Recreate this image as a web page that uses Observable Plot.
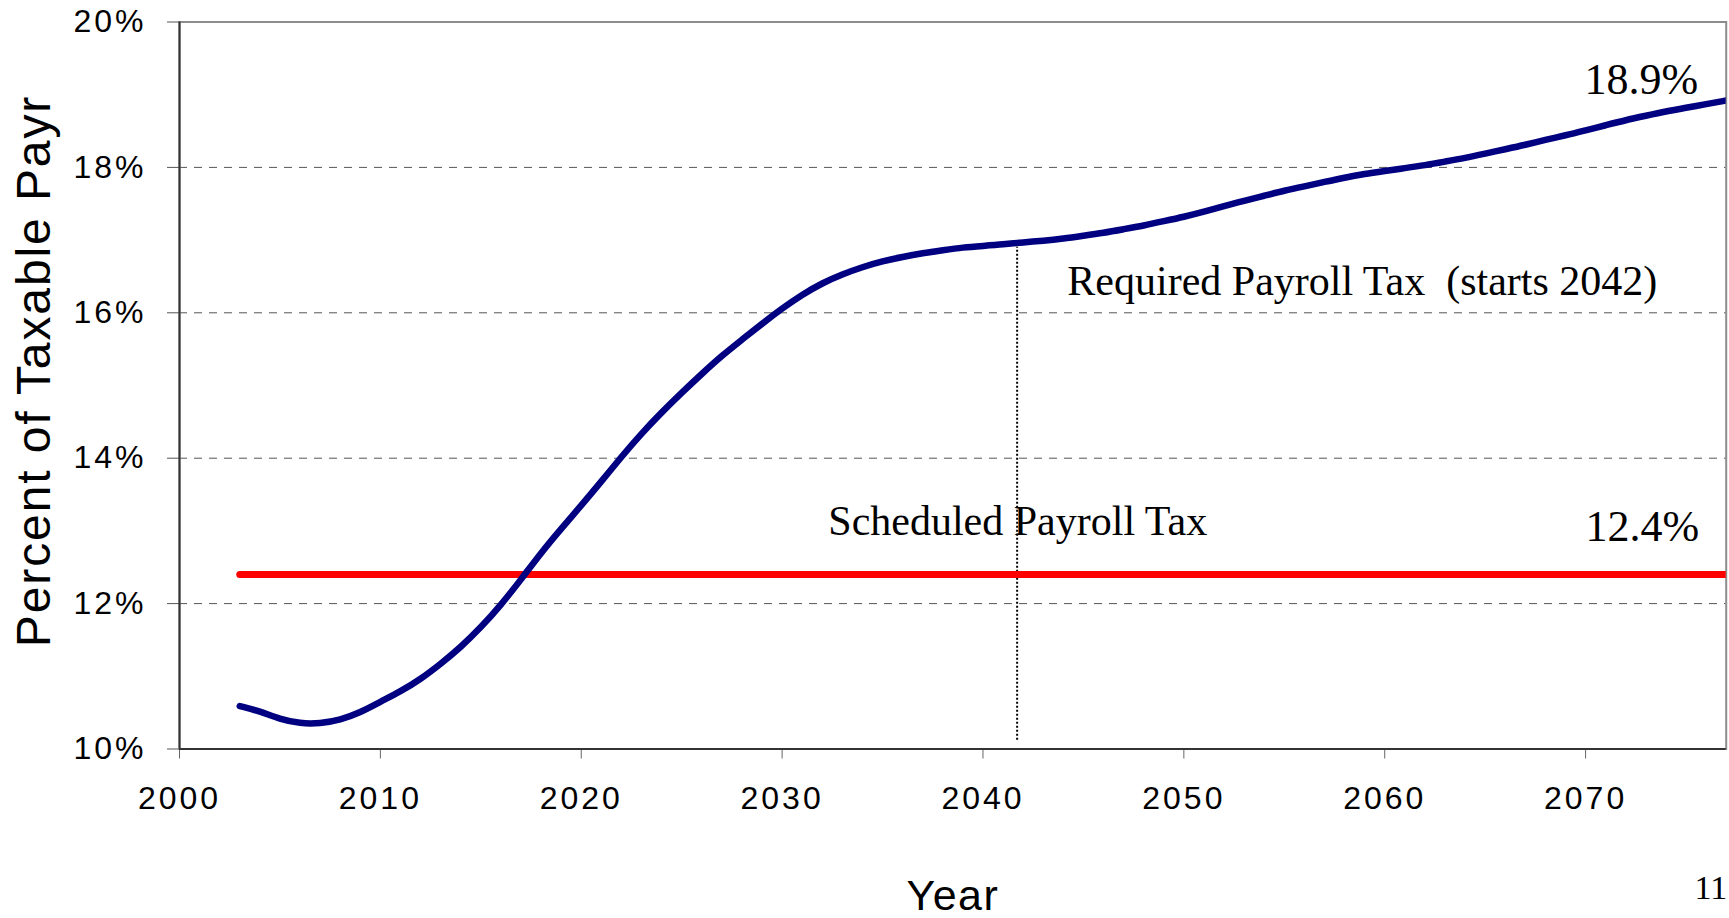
<!DOCTYPE html>
<html>
<head>
<meta charset="utf-8">
<script src="https://cdn.jsdelivr.net/npm/d3@7"></script>
<script src="https://cdn.jsdelivr.net/npm/@observablehq/plot@0.6"></script>
<style>
  html, body { margin: 0; padding: 0; background: #fff; }
  #chart svg { display: block; }
  [aria-label="x-axis tick label"] text, [aria-label="y-axis tick label"] text { letter-spacing: 3px; }
</style>
</head>
<body>
<div id="chart"></div>
<script>
// ---- Data ----
const years = [2003,2004,2005,2006,2007,2008,2009,2010,2011,2012,2013,2014,2015,2016,2017,2018,2019,2020,
  2021,2022,2023,2024,2025,2026,2027,2028,2029,2030,2031,2032,2033,2034,2035,2036,2037,2038,2039,2040,
  2041,2042,2043,2044,2045,2046,2047,2048,2049,2050,2051,2052,2053,2054,2055,2056,2057,2058,2059,2060,
  2061,2062,2063,2064,2065,2066,2067,2068,2069,2070,2071,2072,2073,2074,2075,2076,2077];
const requiredRate = [10.59,10.52,10.41,10.35,10.35,10.40,10.50,10.65,10.79,10.96,11.17,11.40,11.67,11.98,12.33,12.70,13.03,13.35,
  13.68,14.02,14.34,14.63,14.90,15.16,15.41,15.63,15.85,16.06,16.25,16.41,16.53,16.63,16.71,16.77,16.82,16.86,16.90,16.92,
  16.94,16.97,16.99,17.02,17.06,17.10,17.15,17.20,17.26,17.32,17.39,17.47,17.54,17.61,17.68,17.74,17.80,17.86,17.91,17.95,
  17.99,18.03,18.08,18.13,18.19,18.25,18.31,18.38,18.44,18.51,18.58,18.65,18.71,18.77,18.82,18.87,18.92];
const scheduledYears = [2003, 2077];
const scheduledRate = [12.4, 12.4];

const xTicks = [2000, 2010, 2020, 2030, 2040, 2050, 2060, 2070];
const yTicks = [10, 12, 14, 16, 18, 20];
const gridTicks = [12, 14, 16, 18];

const markerYear = [2041.7];
const markerFrom = [10.12];
const markerTo = [16.9];

// value labels (right-aligned) and series labels (left-aligned)
const valueLabelTexts = ["18.9%", "12.4%"];
const valueLabelYears = [2075.6, 2075.65];
const valueLabelRates = [19.01, 12.86];
const seriesLabelTexts = ["Scheduled Payroll Tax", "Required Payroll Tax  (starts 2042)"];
const seriesLabelYears = [2032.3, 2044.2];
const seriesLabelRates = [12.95, 16.25];

const yTitle = "Percent of Taxable Payr";
const xTitle = "Year";
const pageNumber = "11";

// ---- Tables ----
const required = years.map((y, i) => ({year: y, rate: requiredRate[i]}));
const scheduled = scheduledYears.map((y, i) => ({year: y, rate: scheduledRate[i]}));
const marker = markerYear.map((y, i) => ({year: y, from: markerFrom[i], to: markerTo[i]}));
const valueLabels = valueLabelTexts.map((t, i) => ({text: t, year: valueLabelYears[i], rate: valueLabelRates[i]}));
const seriesLabels = seriesLabelTexts.map((t, i) => ({text: t, year: seriesLabelYears[i], rate: seriesLabelRates[i]}));

const serif = "'Liberation Serif', 'Times New Roman', serif";
const sans = "'Liberation Sans', Arial, sans-serif";

const chart = Plot.plot({
  width: 1729,
  height: 918,
  marginLeft: 179,
  marginRight: 3.3,
  marginTop: 21.5,
  marginBottom: 169.5,
  style: {fontFamily: sans, fontSize: "32px", color: "#000", background: "#fff", overflow: "visible"},
  x: {domain: [2000, 2077]},
  y: {domain: [10, 20]},
  marks: [
    Plot.gridY(gridTicks, {stroke: "#555", strokeOpacity: 1, strokeWidth: 1, strokeDasharray: "8,7"}),
    Plot.frame({stroke: "#8c8c8c", strokeWidth: 2}),
    Plot.ruleX(marker, {x: "year", y1: "from", y2: "to", stroke: "#000", strokeWidth: 2, strokeDasharray: "2,2"}),
    Plot.line(scheduled, {x: "year", y: "rate", stroke: "#ff0000", strokeWidth: 7, strokeLinecap: "round", clip: true}),
    Plot.line(required, {x: "year", y: "rate", stroke: "#000080", strokeWidth: 6.5, curve: "basis", strokeLinecap: "round", clip: true}),
    Plot.axisY({ticks: yTicks, tickSize: 12, tickPadding: 21, tickFormat: d => d + "%", label: null, stroke: "#555", fontSize: 32}),
    Plot.axisX({ticks: xTicks, tickSize: 10, tickPadding: 27, tickFormat: d => String(d), label: null, stroke: "#666", fontSize: 32}),
    Plot.ruleX([2000], {stroke: "#333", strokeWidth: 2}),
    Plot.ruleY([10], {stroke: "#333", strokeWidth: 2}),
    Plot.text(valueLabels, {x: "year", y: "rate", text: "text", textAnchor: "end", lineAnchor: "bottom", fontFamily: serif, fontSize: 44, fill: "#000"}),
    Plot.text(seriesLabels, {x: "year", y: "rate", text: "text", textAnchor: "start", lineAnchor: "bottom", fontFamily: serif, fontSize: 42, fill: "#000"}),
    Plot.text([yTitle], {frameAnchor: "bottom-left", rotate: -90, textAnchor: "start", lineAnchor: "bottom", dx: -129.7, dy: -101.8, fontSize: 48, fontFamily: sans, fill: "#000"}),
    Plot.text([xTitle], {frameAnchor: "bottom", textAnchor: "middle", lineAnchor: "bottom", dy: 161, fontSize: 43, fontFamily: sans, fill: "#000"}),
    Plot.text([pageNumber], {frameAnchor: "bottom-right", textAnchor: "end", lineAnchor: "bottom", dx: 1, dy: 150, fontSize: 34, fontFamily: serif, fill: "#000"})
  ]
});
document.getElementById("chart").appendChild(chart);

// letter spacing for the titles (the reference text is slightly wider)
d3.select(chart).selectAll("text")
  .filter(function () { return this.textContent === yTitle; })
  .style("letter-spacing", "1.9px");
d3.select(chart).selectAll("text")
  .filter(function () { return this.textContent === xTitle; })
  .style("letter-spacing", "1.5px");
</script>
</body>
</html>
